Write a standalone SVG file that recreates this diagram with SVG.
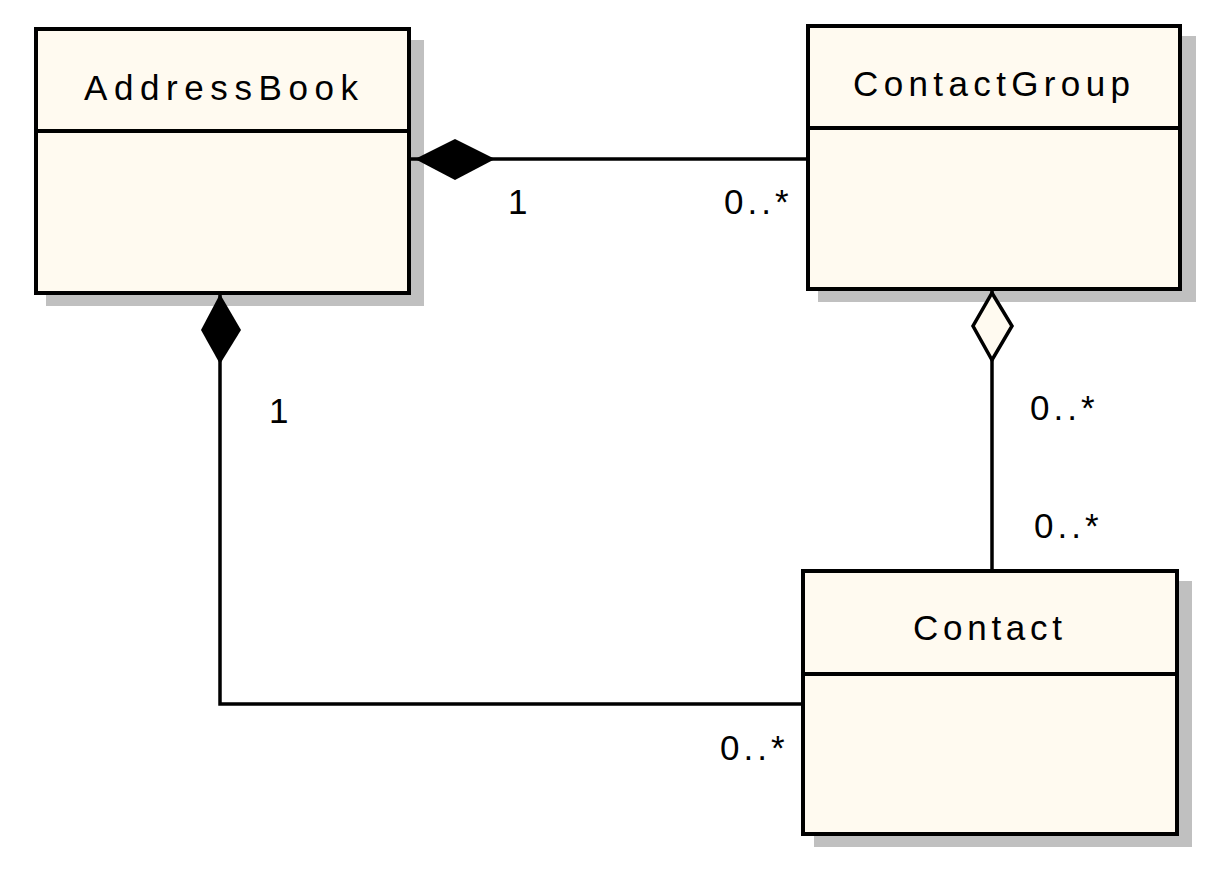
<svg xmlns="http://www.w3.org/2000/svg" width="1228" height="884" viewBox="0 0 1228 884">
<style>
.shadow{fill:#c0c0c0;stroke:none}
.box{fill:#fffaf0;stroke:#000;stroke-width:4}
.div{stroke:#000;stroke-width:4}
.name{font-family:"Liberation Sans",Arial,sans-serif;font-size:35px;fill:#000}
.lbl{font-family:"Liberation Sans",Arial,sans-serif;font-size:35px;fill:#000;letter-spacing:4px}
.conn{fill:none;stroke:#000;stroke-width:3.5}
</style>
<rect width="1228" height="884" fill="#fff"/>
<g id="AddressBook">
<rect class="shadow" x="46" y="40" width="378" height="266"/>
<rect class="box" x="36" y="29" width="373" height="264"/>
<line class="div" x1="36" y1="131" x2="409" y2="131"/>
<text class="name" x="84" y="100" textLength="274" lengthAdjust="spacing">AddressBook</text>
</g>
<g id="ContactGroup">
<rect class="shadow" x="818" y="36" width="378" height="266"/>
<rect class="box" x="808" y="26" width="372" height="263"/>
<line class="div" x1="808" y1="128" x2="1180" y2="128"/>
<text class="name" x="853" y="96" textLength="277" lengthAdjust="spacing">ContactGroup</text>
</g>
<g id="Contact">
<rect class="shadow" x="814" y="581" width="378" height="266"/>
<rect class="box" x="803" y="571" width="374" height="263"/>
<line class="div" x1="803" y1="674" x2="1177" y2="674"/>
<text class="name" x="913" y="640" textLength="149" lengthAdjust="spacing">Contact</text>
</g>
<g id="connectors">
<line class="conn" x1="411" y1="159" x2="806" y2="159"/>
<polygon points="415,159 455,139 495,159 455,180" fill="#000"/>
<polyline class="conn" points="220,295 220,704 801,704"/>
<polygon points="220,294 241,330 220,364 201,330" fill="#000"/>
<line class="conn" x1="992" y1="291" x2="992" y2="569"/>
<polygon points="992,293 1012,326 992,360 973,326" fill="#fffaf0" stroke="#000" stroke-width="3.5"/>
<text class="lbl" x="508" y="214">1</text>
<text class="lbl" x="724" y="214">0..*</text>
<text class="lbl" x="269" y="423">1</text>
<text class="lbl" x="720" y="760">0..*</text>
<text class="lbl" x="1030" y="420">0..*</text>
<text class="lbl" x="1034" y="538">0..*</text>
</g>
</svg>
